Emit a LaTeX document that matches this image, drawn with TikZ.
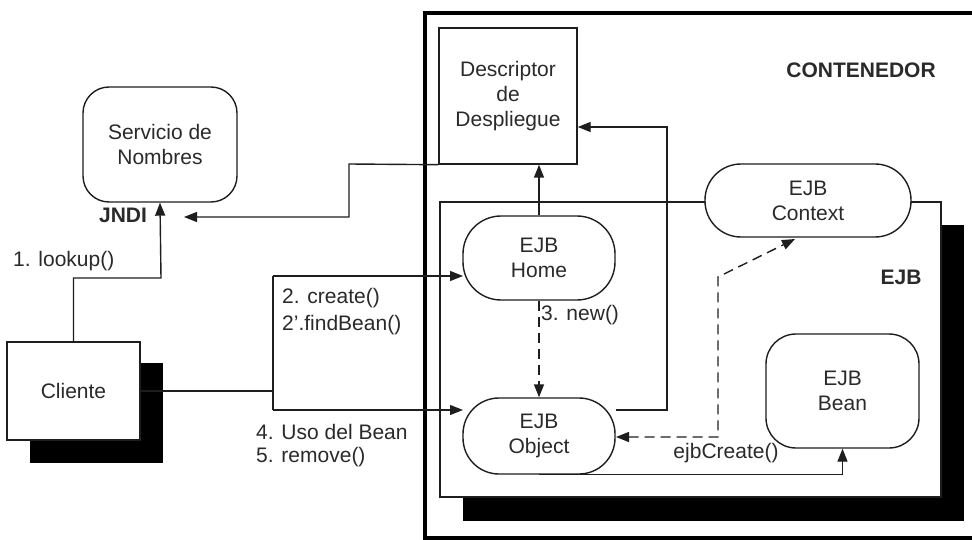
\documentclass[tikz,border=0pt]{standalone}
\usepackage{fontspec}
\setmainfont{Liberation Sans}
\usetikzlibrary{arrows.meta,calc}
\definecolor{ln}{HTML}{1E1E1E}
\definecolor{txt}{HTML}{2A2A2A}
\begin{document}
\begin{tikzpicture}[x=1pt,y=-1pt,
  every node/.style={font=\fontsize{21}{25}\selectfont, text=txt},
  box/.style={draw=ln, line width=1.4pt, fill=white, align=center, inner sep=0pt},
  shadowbox/.style={fill=black, draw=none, inner sep=0pt},
  lbl/.style={anchor=west, inner sep=0pt},
  bold/.style={font=\fontsize{21}{25}\selectfont\bfseries, inner sep=0pt},
  conn/.style={draw=ln, line width=1.4pt},
  arr/.style={conn, -{Triangle[length=13pt,width=10pt]}},
  darr/.style={conn, dash pattern=on 10pt off 6pt},
]
\useasboundingbox[fill=white] (0,0) rectangle (972,540);

% container
\draw[line width=4.5pt, black] (972,13) -- (425,13) -- (425,538.5) -- (972,538.5);

% EJB area
\node[shadowbox, minimum width=501pt, minimum height=296pt] (ejbS) at (713.5,373) {};
\node[box, minimum width=501pt, minimum height=295pt] (ejb) at (690.5,349.5) {};

% client
\node[shadowbox, minimum width=133pt, minimum height=100pt] (cliS) at (96.5,413) {};
\node[box, minimum width=133pt, minimum height=98pt] (cli) at (73.5,391) {Cliente};

% naming service
\node[box, rounded corners=26pt, minimum width=154pt, minimum height=115pt] (serv) at (160,144.5) {Servicio de\\Nombres};
\node[bold] (jndi) at (123,215) {JNDI};

% descriptor
\node[box, minimum width=138pt, minimum height=136pt] (desc) at (508,96) {Descriptor\\de\\Despliegue};

% coordinates
\coordinate (l1) at (161,278);
\coordinate (j1) at (349,164);
\coordinate (j2) at (349,217);
\coordinate (j3) at (184,217);
\coordinate (b1) at (273,276);
\coordinate (b2) at (273,410);
\coordinate (c5) at (667,127);
\coordinate (e1) at (718,437);
\coordinate (e2) at (718,277);
\coordinate (e3) at (795,239);
\coordinate (e0) at (616,437);

% connectors (drawn below the EJB nodes)
\draw[arr] (cli.north) |- (l1) -- (serv.south);
\draw[arr] (desc.south west) -- (j1) -- (j2) -- (j3);
\draw[conn] (cli.east) -- (cli.east -| b1);
\draw[conn] (b1) -- (b2);
\draw[arr] (b1) -- (b1 -| 463,0);
\draw[arr] (b2) -- (b2 -| 463,0);

% EJB nodes
\node[box, rounded corners=38pt, minimum width=152pt, minimum height=84pt] (home) at (539,258) {EJB\\Home};
\node[box, rounded corners=36pt, minimum width=152pt, minimum height=76pt] (obj) at (539,436) {EJB\\Object};
\node[box, rounded corners=36pt, minimum width=206pt, minimum height=73pt] (ctx) at (808,200.5) {EJB\\Context};
\node[box, rounded corners=30pt, minimum width=153pt, minimum height=114pt] (bean) at (842.5,391) {EJB\\Bean};

\draw[arr] (home.north) -- (home.north |- desc.south);
\draw[arr] (obj.east |- b2) -| (c5) -- (c5 -| desc.east);
\draw[darr, -{Triangle[length=13pt,width=10pt]}] (home.south) -- (obj.north);
\draw[darr, {Triangle[length=13pt,width=10pt]}-{Triangle[length=13pt,width=10pt]}] (e0) -- (e1) -- (e2) -- (e3);
\draw[arr] (obj.south) -- (obj.south -| bean.south) -- (bean.south);

% labels
\node[lbl] (t1) at (13,261) {1. lookup()};
\node[lbl] (t2) at (282,298) {2. create()};
\node[lbl] (t2b) at (282,325) {2'.findBean()};
\node[lbl] (t4) at (256,432) {4. Uso del Bean};
\node[lbl] (t5) at (256,457) {5. remove()};
\node[lbl] (t3) at (541,315) {3. new()};
\node[inner sep=0pt] (tc) at (726,453) {ejbCreate()};
\node[bold] (cont) at (861,70) {CONTENEDOR};
\node[bold] (ejbl) at (901,277) {EJB};
\end{tikzpicture}
\end{document}
